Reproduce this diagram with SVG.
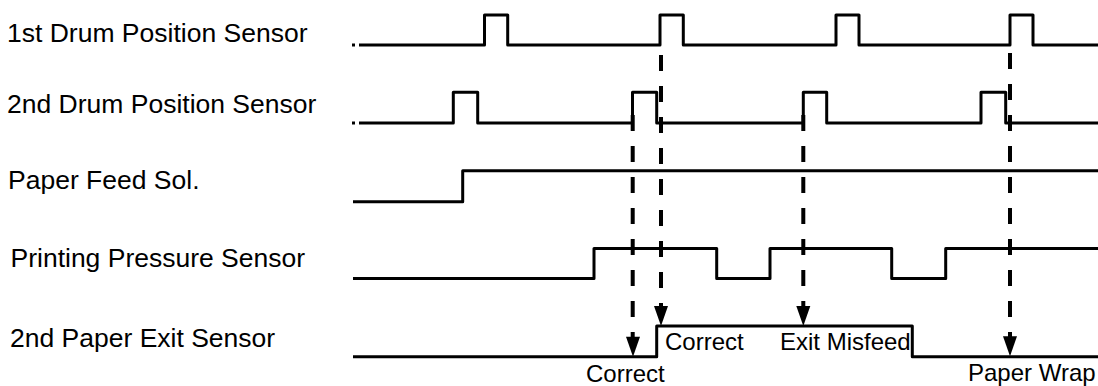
<svg xmlns="http://www.w3.org/2000/svg" width="1098" height="386" viewBox="0 0 1098 386">
<style>
.lbl{font-family:"Liberation Sans",Arial,sans-serif;font-size:26.5px;fill:#000}
.ann{font-family:"Liberation Sans",Arial,sans-serif;font-size:24px;fill:#000}
.sig{fill:none;stroke:#000;stroke-width:3;stroke-linejoin:round;stroke-linecap:butt}
.dash{fill:none;stroke:#000;stroke-width:4;stroke-dasharray:16 15}
.head{fill:#000}
</style>
<rect width="1098" height="386" fill="#fff"/>
<g id="sig1">
<text class="lbl" x="7" y="42">1st Drum Position Sensor</text>
<path class="sig" d="M352 45H355"/>
<path class="sig" d="M359 45H484.5V15H507.7V45H660V15H683.3V45H836V15H859V45H1010V15H1033V45H1098"/>
</g>
<g id="sig2">
<text class="lbl" x="7" y="113.3">2nd Drum Position Sensor</text>
<path class="sig" d="M352 123H355"/>
<path class="sig" d="M359 123H453.3V92.3H477.7V123H632.5V92.3H656.7V123H803.3V92.3H826.7V123H981V92.3H1005.7V123H1098"/>
</g>
<g id="sig3">
<text class="lbl" x="8" y="189.3">Paper Feed Sol.</text>
<path class="sig" d="M353 201.7H462.7V170.7H1098"/>
</g>
<g id="sig4">
<text class="lbl" x="10.5" y="266.7">Printing Pressure Sensor</text>
<path class="sig" d="M353 278.5H594V248.4H716.7V278.5H770V248.4H891.7V278.5H945.7V248.4H1098"/>
</g>
<g id="sig5">
<text class="lbl" x="10" y="346.7">2nd Paper Exit Sensor</text>
<path class="sig" d="M353 356.7H656.7V326H912.3V356.7H1098"/>
</g>
<g id="connectors">
<path class="dash" d="M632.7 115V337"/>
<polygon class="head" points="626,336.7 640,336.7 633,356.7"/>
<path class="dash" d="M661 55V306"/>
<polygon class="head" points="654,306 668,306 661,326"/>
<path class="dash" d="M803.3 115V306"/>
<polygon class="head" points="796.3,306 810.3,306 803.3,326"/>
<path class="dash" d="M1010 53V337"/>
<polygon class="head" points="1003,336.3 1017,336.3 1010,356.3"/>
</g>
<g id="annotations">
<text class="ann" x="586" y="381.7">Correct</text>
<text class="ann" x="665" y="350">Correct</text>
<text class="ann" x="780" y="350">Exit Misfeed</text>
<text class="ann" x="968" y="380.5">Paper Wrap</text>
</g>
</svg>
